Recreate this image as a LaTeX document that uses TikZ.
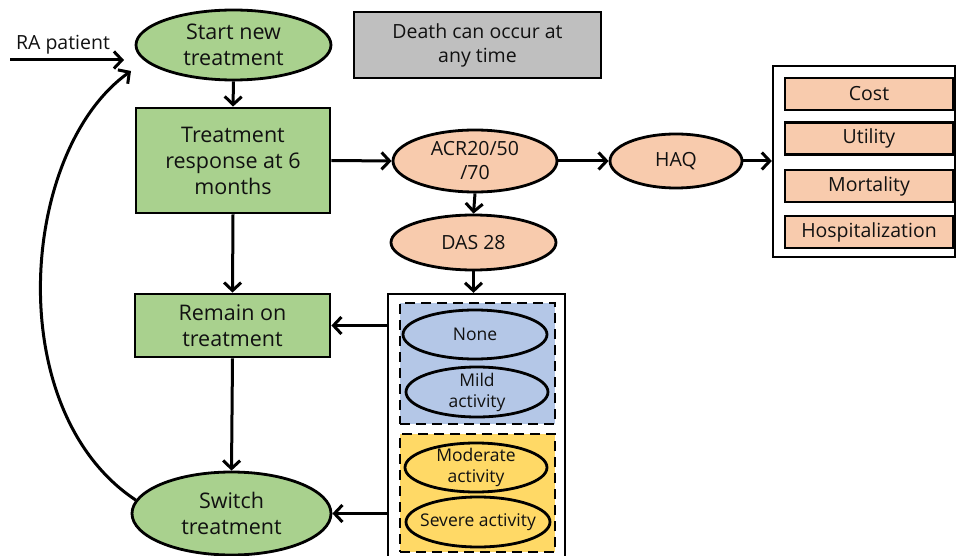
\documentclass[tikz,border=0pt]{standalone}
\usepackage{fontspec}
\setmainfont{Open Sans}
\usetikzlibrary{shapes.geometric,arrows.meta}
\definecolor{cgreen}{HTML}{A9D18E}
\definecolor{corange}{HTML}{F8CBAD}
\definecolor{cgray}{HTML}{BFBFBF}
\definecolor{cblue}{HTML}{B4C7E7}
\definecolor{cyellow}{HTML}{FFD966}
\definecolor{ctext}{HTML}{111111}
\tikzset{
  big/.style={font=\fontsize{21.5}{26}\selectfont, text=ctext, align=center},
  mid/.style={font=\fontsize{19.5}{24}\selectfont, text=ctext, align=center},
  sml/.style={font=\fontsize{17.5}{21}\selectfont, text=ctext, align=center},
  ell/.style={ellipse, draw=black, line width=2.8pt, inner sep=0pt},
  boxx/.style={rectangle, draw=black, line width=2.8pt, inner sep=0pt},
  dbox/.style={rectangle, draw=black, line width=2.8pt, inner sep=0pt, dash pattern=on 10pt off 6pt},
  conn/.style={line width=3pt, -{Straight Barb[length=8pt,width=17pt]}},
}
\begin{document}
\begin{tikzpicture}[x=1pt,y=-1pt]
\useasboundingbox (0,0) rectangle (956,556);
\fill[white] (0,0) rectangle (956,556);

% left column
\node[ell, fill=cgreen, minimum width=195, minimum height=70] (start) at (233.5,45) {};
\node[big] (starttxt) at (start.center) {Start new\\treatment};
\node[boxx, fill=cgreen, minimum width=194, minimum height=105, big] (resp) at (233,160.5) {Treatment\\response at 6\\months};
\node[boxx, fill=cgreen, minimum width=195, minimum height=63, big] (remain) at (232.5,325.5) {Remain on\\treatment};
\node[ell, fill=cgreen, minimum width=199, minimum height=83] (switch) at (231.5,513.5) {};
\node[big] (switchtxt) at (switch.center) {Switch\\treatment};

% RA patient
\node[mid] (ra) at (63,45) {RA patient};
\coordinate (rastart) at (10,60);
\coordinate (raend) at (124,60);
\coordinate (loopend) at (131,71);

% death box
\node[boxx, line width=2.3pt, fill=cgray, minimum width=247, minimum height=66, mid] (death) at (477.5,45) {Death can occur at\\any time};

% middle
\node[ell, fill=corange, minimum width=164, minimum height=62] (acr) at (475,161) {};
\node[mid] (acrtxt) at (acr.center) {ACR20/50\\/70};
\node[ell, fill=corange, minimum width=132, minimum height=54] (haq) at (676,161) {};
\node[mid] (haqtxt) at (haq.center) {HAQ};
\node[ell, fill=corange, minimum width=165, minimum height=55] (das) at (473.5,242.5) {};
\node[mid] (dastxt) at (das.center) {DAS 28};

% outcomes box
\node[boxx, line width=2.3pt, fill=white, minimum width=182, minimum height=191] (outbox) at (864,161.5) {};
\node[boxx, line width=2.3pt, fill=corange, minimum width=168, minimum height=32, mid] (cost) at (869,94) {Cost};
\node[boxx, line width=2.3pt, fill=corange, minimum width=168, minimum height=32, mid] (util) at (869,138.5) {Utility};
\node[boxx, line width=2.3pt, fill=corange, minimum width=168, minimum height=32, mid] (mort) at (869,186) {Mortality};
\node[boxx, line width=2.3pt, fill=corange, minimum width=168, minimum height=32, mid] (hosp) at (869,232) {Hospitalization};

% disease activity box
\node[boxx, line width=2.3pt, fill=white, minimum width=177, minimum height=306] (actbox) at (476.5,447) {};
\node[dbox, fill=cblue, minimum width=155, minimum height=121] (bluebox) at (477.5,363.5) {};
\node[dbox, fill=cyellow, minimum width=155, minimum height=118] (yelbox) at (477.5,493) {};
\node[ell, fill=cblue, minimum width=144, minimum height=49] (none) at (475,334.5) {};
\node[sml] (nonetxt) at (none.center) {None};
\node[ell, fill=cblue, minimum width=142, minimum height=50] (mild) at (477,392) {};
\node[sml] (mildtxt) at (mild.center) {Mild\\activity};
\node[ell, fill=cyellow, minimum width=142, minimum height=49] (mod) at (476,467.5) {};
\node[sml] (modtxt) at (mod.center) {Moderate\\activity};
\node[ell, fill=cyellow, minimum width=144, minimum height=50] (sev) at (478,522) {};
\node[sml] (sevtxt) at (sev.center) {Severe activity};

% connectors
\draw[conn] (rastart) -- (raend);
\draw[conn] (start.south) -- (resp.north);
\draw[conn] (resp.east) -- (acr.west);
\draw[conn] (acr.east) -- (haq.west);
\draw[conn] (haq.east) -- (haq.east -| outbox.west);
\draw[conn] (acr.south) -- (das.north);
\draw[conn] (das.south) -- (das.south |- actbox.north);
\draw[conn] (resp.south) -- (remain.north);
\draw[conn] (remain.south) -- (switch.north);
\draw[conn] (remain.east -| actbox.west) -- (remain.east);
\draw[conn] (switch.east -| actbox.west) -- (switch.east);
\draw[conn] (switch.172) .. controls (0,410) and (20,150) .. (loopend);
\end{tikzpicture}
\end{document}
